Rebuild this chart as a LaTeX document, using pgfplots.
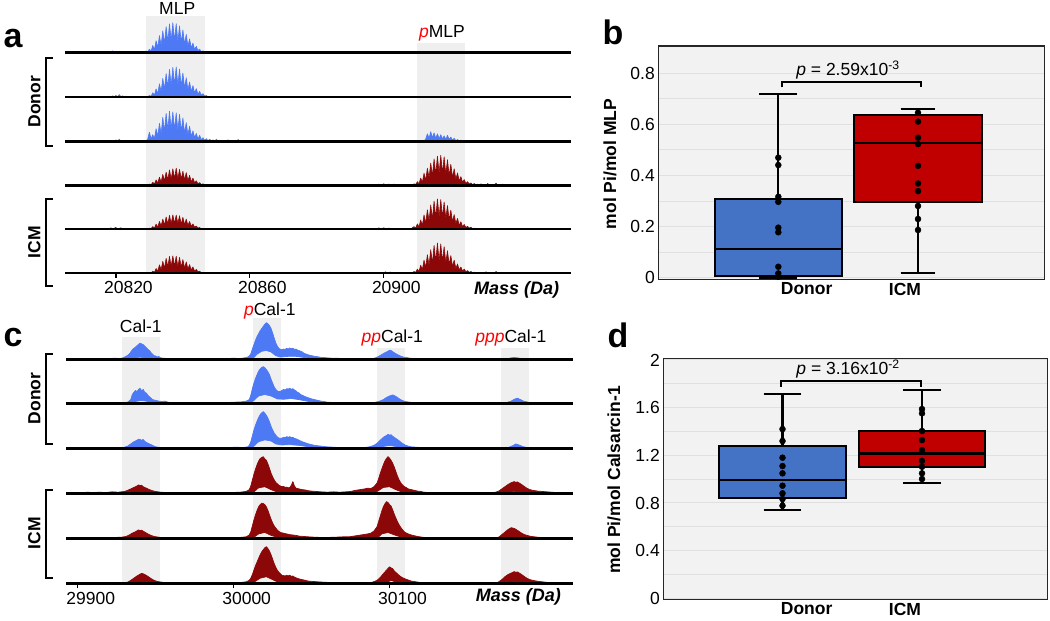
\documentclass[border=0pt]{standalone}
\usepackage{pgfplots}
\pgfplotsset{compat=1.18}
\usepgfplotslibrary{statistics}
\usepackage{fontspec}
\setmainfont{Liberation Sans}
\definecolor{specblue}{RGB}{78,121,245}
\definecolor{specred}{RGB}{140,8,8}
\definecolor{band}{RGB}{239,239,239}
\definecolor{boxblue}{RGB}{68,114,196}
\definecolor{boxred}{RGB}{192,0,0}
\definecolor{panelbg}{RGB}{242,242,242}
\definecolor{gridc}{RGB}{224,224,224}
\newcommand\fs{\fontsize{17.5pt}{21pt}\selectfont}
\pgfplotsset{/pgf/number format/assume math mode=true,
 rowa/.style={scale only axis, width=506.4pt, height=30pt, xmin=20804.8, xmax=20956.0, ymin=0, ymax=100,
   axis x line*=bottom, axis y line=none, xtick=\empty, ytick=\empty, clip=false, axis on top,
   x axis line style={line width=2.6pt, black}, anchor=south west, scaled x ticks=false},
 rowc/.style={scale only axis, width=506.7pt, height=36.6pt, xmin=29892.6, xmax=30217.6, ymin=0, ymax=100,
   axis x line*=bottom, axis y line=none, xtick=\empty, ytick=\empty, clip=false, axis on top,
   x axis line style={line width=2.6pt, black}, anchor=south west, scaled x ticks=false},
 bspec/.style={draw=specblue, fill=specblue, line width=0.6pt, line join=round},
 rspec/.style={draw=specred, fill=specred, line width=0.6pt, line join=round},
 cbspec/.style={draw=specblue, fill=specblue, line width=0.7pt, line join=round},
 crspec/.style={draw=specred, fill=specred, line width=0.7pt, line join=round},
 bottomticks/.style={tick align=outside, major tick length=5pt, xtick style={black, line width=1.2pt},
   xticklabel style={font=\fs}},
 boxpanel/.style={scale only axis, anchor=south west, axis background/.style={fill=panelbg},
   axis line style={draw=black!85, line width=1.4pt}, ymajorgrids, yminorgrids,
   major grid style={gridc, line width=1pt}, minor grid style={gridc, line width=1pt},
   major tick length=0pt, minor tick length=0pt, yticklabel style={font=\fs},
   xticklabel style={font=\fs\bfseries}, clip=false, boxplot/draw direction=y,
   boxplot/every box/.style={draw=black, line width=2.2pt},
   boxplot/every median/.style={draw=black, line width=2.2pt},
   boxplot/every whisker/.style={draw=black, line width=2.2pt}},
}
\begin{document}
\begin{tikzpicture}
\path[use as bounding box] (0pt,0pt) rectangle (1050pt,621pt);
% ---------------- panel a ----------------
\begin{axis}[at={(65pt,348pt)}, anchor=south west, scale only axis, width=506.4pt, height=257.3pt,
  xmin=20804.8, xmax=20956.0, ymin=0, ymax=257.3, hide axis]
\addplot[fill=band, draw=none] coordinates {(20829.1,0)(20846.5,0)(20846.5,257.3)(20829.1,257.3)};
\addplot[fill=band, draw=none] coordinates {(20910.0,0)(20924.1,0)(20924.1,229.7)(20910.0,229.7)};
\end{axis}
% row 1
\begin{axis}[rowa, at={(65pt,568.3pt)}]
\addplot[bspec] coordinates {(20815.5,0)(20816,4)(20816.5,0)(20817,5)(20817.5,1)(20818,5)(20818.5,1)(20819,6)(20819.5,1)(20820,4)(20820.5,0)(20821,3)(20821.5,0)(20822,3)(20822.5,0)
(20828.5,0)(20829,6)(20829.5,2)(20830,12)(20830.5,5)(20831,24)(20831.5,10)(20832,40)(20832.5,17)(20833,57)(20833.5,24)(20834,73)(20834.5,31)(20835,87)(20835.5,36)(20836,96)(20836.5,40)(20837,100)(20837.5,40)(20838,97)(20838.5,38)(20839,89)(20839.5,34)(20840,76)(20840.5,28)(20841,61)(20841.5,22)(20842,46)(20842.5,16)(20843,32)(20843.5,11)(20844,21)(20844.5,7)(20845,12)(20845.5,3)(20846,6)(20846.5,1)(20847,3)(20847.5,0)
(20849.5,0)(20850,3)(20850.5,0)(20853.5,0)(20854,4)(20854.5,0)(20856.5,0)(20857,3)(20857.5,0)} \closedcycle;
\end{axis}
% row 2
\begin{axis}[rowa, at={(65pt,524pt)}]
\addplot[bspec] coordinates {(20817.5,0)(20818,3)(20818.5,0)(20819,4)(20819.5,1)(20820,5)(20820.5,1)(20821,8)(20821.5,1)(20822,4)(20822.5,1)(20823,3)(20823.5,0)
(20829.5,0)(20830,5)(20830.5,2)(20831,14)(20831.5,6)(20832,27)(20832.5,11)(20833,44)(20833.5,18)(20834,62)(20834.5,26)(20835,78)(20835.5,33)(20836,92)(20836.5,38)(20837,99)(20837.5,40)(20838,100)(20838.5,40)(20839,93)(20839.5,36)(20840,80)(20840.5,30)(20841,64)(20841.5,24)(20842,50)(20842.5,18)(20843,38)(20843.5,13)(20844,28)(20844.5,9)(20845,19)(20845.5,6)(20846,11)(20846.5,3)(20847,5)(20847.5,0)} \closedcycle;
\end{axis}
% row 3
\begin{axis}[rowa, at={(65pt,479.7pt)}]
\addplot[bspec] coordinates {(20818.5,0)(20819,3)(20819.5,0)(20820,5)(20820.5,1)(20821,7)(20821.5,1)(20822,3)(20822.5,0)
(20829,0)(20829.5,8)(20830,30)(20830.5,8)(20831,22)(20831.5,9)(20832,42)(20832.5,17)(20833,60)(20833.5,25)(20834,80)(20834.5,33)(20835,93)(20835.5,38)(20836,100)(20836.5,40)(20837,98)(20837.5,38)(20838,95)(20838.5,37)(20839,90)(20839.5,33)(20840,78)(20840.5,28)(20841,62)(20841.5,22)(20842,50)(20842.5,17)(20843,35)(20843.5,12)(20844,26)(20844.5,8)(20845,20)(20845.5,5)(20846,12)(20846.5,3)(20847,9)(20847.5,2)(20848,7)(20848.5,1)(20849,5)(20849.5,0)(20850,7)(20850.5,0)(20851,4)(20851.5,0)(20853,0)(20853.5,5)(20854,0)(20856,0)(20856.5,6)(20857,0)
(20912,0)(20912.5,8)(20913,25)(20913.5,10)(20914,32)(20914.5,12)(20915,28)(20915.5,10)(20916,25)(20916.5,9)(20917,22)(20917.5,8)(20918,18)(20918.5,6)(20919,20)(20919.5,6)(20920,14)(20920.5,4)(20921,10)(20921.5,2)(20922,6)(20922.5,1)(20923,4)(20923.5,0)} \closedcycle;
\end{axis}
% row 4
\begin{axis}[rowa, at={(65pt,435.7pt)}]
\addplot[rspec] coordinates {(20829.5,0)(20830,4)(20830.5,1)(20831,10)(20831.5,4)(20832,18)(20832.5,7)(20833,27)(20833.5,11)(20834,36)(20834.5,15)(20835,44)(20835.5,18)(20836,51)(20836.5,20)(20837,55)(20837.5,22)(20838,57)(20838.5,22)(20839,53)(20839.5,20)(20840,47)(20840.5,18)(20841,42)(20841.5,15)(20842,33)(20842.5,11)(20843,24)(20843.5,8)(20844,15)(20844.5,5)(20845,9)(20845.5,2)(20846,5)(20846.5,1)(20847,3)(20847.5,0)
(20853.5,0)(20854,3)(20854.5,0)(20874.5,0)(20875,3)(20875.5,0)
(20898,0)(20898.5,4)(20899,0)(20900,5)(20900.5,0)(20901.5,4)(20902,0)(20903,4)(20903.5,0)(20904.5,3)(20905,0)
(20908.5,0)(20909,5)(20909.5,2)(20910,12)(20910.5,5)(20911,24)(20911.5,10)(20912,40)(20912.5,17)(20913,57)(20913.5,24)(20914,74)(20914.5,31)(20915,88)(20915.5,36)(20916,97)(20916.5,40)(20917,100)(20917.5,40)(20918,95)(20918.5,37)(20919,85)(20919.5,32)(20920,70)(20920.5,26)(20921,55)(20921.5,20)(20922,41)(20922.5,14)(20923,29)(20923.5,10)(20924,19)(20924.5,6)(20925,12)(20925.5,4)(20926,8)(20926.5,2)(20927,6)(20927.5,1)(20928,4)(20928.5,0)(20929,5)(20929.5,0)(20930.5,0)(20931,6)(20931.5,0)(20933,0)(20933.5,7)(20934,0)(20935,0)(20935.5,4)(20936,0)} \closedcycle;
\end{axis}
% row 5
\begin{axis}[rowa, at={(65pt,392pt)}]
\addplot[rspec] coordinates {(20818,0)(20818.5,4)(20819,0)(20820,5)(20820.5,0)(20821.5,4)(20822,0)
(20829.5,0)(20830,3)(20830.5,1)(20831,8)(20831.5,3)(20832,16)(20832.5,6)(20833,25)(20833.5,10)(20834,33)(20834.5,13)(20835,40)(20835.5,16)(20836,45)(20836.5,18)(20837,47)(20837.5,18)(20838,46)(20838.5,18)(20839,44)(20839.5,16)(20840,39)(20840.5,14)(20841,33)(20841.5,12)(20842,25)(20842.5,9)(20843,17)(20843.5,6)(20844,10)(20844.5,3)(20845,5)(20845.5,0)
(20898,0)(20898.5,4)(20899,0)(20900,4)(20900.5,0)(20901.5,3)(20902,0)
(20908,0)(20908.5,4)(20909,8)(20909.5,3)(20910,17)(20910.5,7)(20911,30)(20911.5,12)(20912,47)(20912.5,19)(20913,64)(20913.5,27)(20914,80)(20914.5,33)(20915,93)(20915.5,38)(20916,100)(20916.5,40)(20917,98)(20917.5,39)(20918,90)(20918.5,35)(20919,78)(20919.5,30)(20920,63)(20920.5,24)(20921,48)(20921.5,18)(20922,35)(20922.5,12)(20923,24)(20923.5,8)(20924,15)(20924.5,5)(20925,9)(20925.5,3)(20926,6)(20926.5,1)(20927,3)(20927.5,0)} \closedcycle;
\end{axis}
% row 6
\begin{axis}[rowa, at={(65pt,348pt)}, bottomticks, xtick={20820,20860,20900}, xticklabels={20820,20860,20900},
  xticklabel style={xshift=12.5pt}]
\addplot[rspec] coordinates {(20830.5,0)(20831,6)(20831.5,2)(20832,15)(20832.5,6)(20833,27)(20833.5,11)(20834,39)(20834.5,16)(20835,49)(20835.5,20)(20836,55)(20836.5,22)(20837,57)(20837.5,22)(20838,56)(20838.5,21)(20839,52)(20839.5,19)(20840,45)(20840.5,16)(20841,37)(20841.5,13)(20842,28)(20842.5,10)(20843,20)(20843.5,6)(20844,12)(20844.5,4)(20845,6)(20845.5,0)
(20900,0)(20900.5,4)(20901,0)(20902,3)(20902.5,0)
(20908.5,0)(20909,5)(20909.5,2)(20910,13)(20910.5,5)(20911,26)(20911.5,11)(20912,43)(20912.5,18)(20913,61)(20913.5,25)(20914,78)(20914.5,32)(20915,92)(20915.5,38)(20916,100)(20916.5,40)(20917,97)(20917.5,38)(20918,88)(20918.5,34)(20919,74)(20919.5,28)(20920,58)(20920.5,22)(20921,43)(20921.5,15)(20922,30)(20922.5,10)(20923,20)(20923.5,6)(20924,13)(20924.5,4)(20925,8)(20925.5,2)(20926,5)(20926.5,1)(20927,3)(20927.5,0)(20930,0)(20930.5,4)(20931,0)(20933,0)(20933.5,5)(20934,0)} \closedcycle;
\end{axis}
% ---------------- panel c ----------------
\begin{axis}[at={(66.2pt,37.7pt)}, anchor=south west, scale only axis, width=506.7pt, height=265pt,
  xmin=29892.6, xmax=30217.6, ymin=0, ymax=265, hide axis]
\addplot[fill=band, draw=none] coordinates {(29928.2,0)(29952.8,0)(29952.8,246.6)(29928.2,246.6)};
\addplot[fill=band, draw=none] coordinates {(30012.2,0)(30030.1,0)(30030.1,265)(30012.2,265)};
\addplot[fill=band, draw=none] coordinates {(30091.9,0)(30109.6,0)(30109.6,235.6)(30091.9,235.6)};
\addplot[fill=band, draw=none] coordinates {(30171.4,0)(30189.6,0)(30189.6,235.6)(30171.4,235.6)};
\end{axis}
% c row 1
\begin{axis}[rowc, at={(66.2pt,261.7pt)}]
\addplot[cbspec] coordinates {(29905,0)(29910,1)(29915,2)(29920,2)(29924,3)(29927,2)(29929,4)(29931,8)(29933,14)(29934,20)(29935,26)(29936,30)(29937,33)(29938,37)(29939,41)(29940,44)(29941,42)(29942,40)(29943,36)(29944,32)(29945,27)(29946,24)(29947,18)(29948,14)(29949,10)(29950,9)(29951,6)(29952,8)(29953,4)(29955,3)(29958,2)(29962,1)(29970,0)(29980,0)(29990,1)(29996,2)(30000,3)(30004,2)(30007,4)(30009,6)(30010,9)(30011,15)(30012,28)(30013,40)(30014,52)(30015,62)(30016,70)(30017,78)(30018,84)(30019,90)(30020,96)(30021,100)(30022,97)(30023,92)(30024,84)(30025,72)(30026,58)(30027,45)(30028,36)(30029,30)(30030,27)(30031,26)(30032,28)(30033,27)(30034,30)(30035,28)(30036,31)(30037,29)(30038,30)(30039,27)(30040,28)(30041,25)(30042,24)(30043,22)(30044,20)(30045,17)(30046,15)(30048,12)(30050,10)(30052,8)(30054,7)(30056,5)(30058,5)(30060,4)(30063,3)(30066,3)(30070,2)(30075,1)(30080,0)(30085,1)(30089,2)(30091,4)(30093,8)(30095,13)(30097,18)(30099,22)(30100,25)(30101,24)(30102,21)(30103,18)(30105,13)(30107,9)(30109,6)(30111,5)(30113,3)(30116,2)(30120,1)(30125,0)(30170,0)(30175,1)(30178,4)(30180,5)(30182,4)(30185,2)(30190,1)(30200,0)(30210,0)
(30060,0)(30050,3)(30045,5)(30040,8)(30035,8)(30030,6)(30027,10)(30024,20)(30021,24)(30018,22)(30015,14)(30013,5)(30011,0)(29946,0)(29943,4)(29940,6)(29937,4)(29934,0)(29905,0)};
\end{axis}
% c row 2
\begin{axis}[rowc, at={(66.2pt,217.7pt)}]
\addplot[cbspec] coordinates {(29905,0)(29915,1)(29925,2)(29930,2)(29932,3)(29934,10)(29935,24)(29936,30)(29937,35)(29938,32)(29939,38)(29940,41)(29941,34)(29942,38)(29943,30)(29944,28)(29945,22)(29946,18)(29947,14)(29948,10)(29950,8)(29952,6)(29954,5)(29956,6)(29958,3)(29962,1)(29970,0)(29985,0)(29995,2)(30000,3)(30005,4)(30008,6)(30010,10)(30011,22)(30012,40)(30013,55)(30014,68)(30015,78)(30016,88)(30017,94)(30018,98)(30019,100)(30020,97)(30021,92)(30022,86)(30023,78)(30024,66)(30025,55)(30026,45)(30027,38)(30028,34)(30029,32)(30030,33)(30031,35)(30032,38)(30033,36)(30034,40)(30035,39)(30036,41)(30037,38)(30038,40)(30039,36)(30040,34)(30041,30)(30042,28)(30043,24)(30044,22)(30046,18)(30048,15)(30050,12)(30052,10)(30054,8)(30056,6)(30058,5)(30060,3)(30065,2)(30070,1)(30085,0)(30090,2)(30093,5)(30096,10)(30098,16)(30100,20)(30102,23)(30104,19)(30106,13)(30108,8)(30110,5)(30113,3)(30118,1)(30125,0)(30170,0)(30175,2)(30178,6)(30180,11)(30182,14)(30184,10)(30186,6)(30189,3)(30193,1)(30200,0)(30210,0)
(30060,0)(30048,5)(30042,10)(30037,13)(30032,11)(30028,12)(30024,20)(30020,24)(30016,20)(30013,8)(30011,0)(29948,0)(29945,5)(29941,8)(29937,5)(29935,0)(29905,0)};
\end{axis}
% c row 3
\begin{axis}[rowc, at={(66.2pt,172.7pt)}]
\addplot[cbspec] coordinates {(29905,0)(29915,1)(29922,2)(29928,1)(29930,3)(29932,6)(29934,12)(29936,18)(29938,22)(29939,25)(29940,24)(29941,22)(29942,24)(29943,19)(29944,16)(29946,12)(29948,8)(29950,4)(29953,2)(29958,1)(29965,0)(29980,0)(29990,1)(29996,2)(30002,3)(30006,2)(30009,4)(30010,8)(30011,18)(30012,34)(30013,50)(30014,63)(30015,74)(30016,84)(30017,92)(30018,97)(30019,100)(30020,96)(30021,90)(30022,82)(30023,72)(30024,60)(30025,50)(30026,42)(30027,36)(30028,31)(30029,28)(30030,27)(30031,28)(30032,30)(30033,29)(30034,32)(30035,30)(30036,32)(30037,29)(30038,30)(30039,27)(30040,26)(30042,22)(30044,18)(30046,15)(30048,12)(30050,10)(30052,8)(30054,7)(30056,6)(30058,5)(30060,4)(30064,3)(30068,2)(30072,1)(30080,1)(30084,2)(30087,4)(30090,8)(30092,14)(30094,22)(30096,30)(30098,35)(30099,38)(30100,36)(30101,37)(30102,33)(30104,27)(30106,21)(30108,14)(30110,9)(30112,6)(30114,4)(30117,3)(30120,2)(30125,1)(30130,0)(30172,0)(30176,2)(30179,7)(30181,12)(30183,9)(30186,4)(30190,1)(30196,0)(30210,0)
(30110,0)(30104,5)(30100,8)(30096,5)(30092,0)(30072,0)(30050,3)(30042,8)(30036,10)(30031,9)(30027,12)(30024,20)(30020,23)(30016,18)(30013,6)(30011,0)(29944,0)(29940,4)(29936,0)(29905,0)};
\end{axis}
% c row 4
\begin{axis}[rowc, at={(66.2pt,127.7pt)}]
\addplot[crspec] coordinates {(29895,0)(29898,2)(29902,1)(29906,3)(29910,2)(29914,3)(29918,2)(29922,4)(29926,3)(29930,5)(29932,8)(29934,12)(29936,16)(29938,20)(29939,23)(29940,21)(29941,22)(29942,18)(29944,14)(29946,10)(29948,7)(29950,5)(29953,3)(29957,2)(29962,1)(29968,0)(29985,0)(29992,1)(29998,2)(30004,3)(30008,5)(30010,10)(30011,20)(30012,36)(30013,52)(30014,66)(30015,78)(30016,88)(30017,95)(30018,98)(30019,100)(30020,94)(30021,90)(30022,80)(30023,68)(30024,55)(30025,45)(30026,37)(30027,30)(30028,26)(30029,22)(30030,20)(30031,18)(30032,19)(30033,16)(30034,17)(30035,15)(30036,16)(30037,22)(30038,32)(30039,20)(30040,14)(30042,12)(30044,10)(30046,9)(30048,7)(30050,6)(30053,5)(30056,4)(30060,3)(30064,4)(30068,3)(30072,4)(30075,5)(30078,8)(30081,10)(30084,12)(30086,14)(30088,13)(30090,18)(30092,28)(30093,40)(30094,54)(30095,66)(30096,78)(30097,88)(30098,95)(30099,100)(30100,96)(30101,90)(30102,82)(30103,72)(30104,60)(30105,48)(30106,38)(30107,30)(30108,24)(30109,20)(30110,17)(30111,15)(30112,12)(30114,10)(30116,8)(30118,6)(30120,5)(30122,3)(30125,2)(30130,1)(30140,0)(30165,1)(30168,3)(30170,6)(30172,12)(30174,18)(30176,24)(30178,29)(30180,32)(30181,30)(30182,31)(30184,26)(30186,20)(30188,14)(30190,10)(30192,8)(30195,6)(30198,5)(30201,4)(30204,3)(30207,2)(30212,1)(30217,0)
(30186,0)(30182,5)(30178,4)(30174,0)(30110,0)(30104,10)(30100,18)(30096,16)(30092,5)(30090,0)(30030,0)(30024,10)(30020,18)(30016,15)(30013,4)(30011,0)(29895,0)};
\end{axis}
% c row 5
\begin{axis}[rowc, at={(66.2pt,82.7pt)}]
\addplot[crspec] coordinates {(29895,0)(29905,1)(29915,2)(29922,2)(29928,3)(29931,5)(29933,9)(29935,14)(29937,18)(29939,23)(29940,21)(29941,22)(29943,17)(29945,12)(29947,8)(29949,5)(29952,3)(29956,1)(29962,0)(29985,0)(29995,1)(30003,2)(30008,4)(30010,9)(30011,18)(30012,34)(30013,50)(30014,64)(30015,76)(30016,86)(30017,92)(30018,96)(30019,95)(30020,92)(30021,86)(30022,76)(30023,64)(30024,52)(30025,42)(30026,34)(30027,28)(30028,23)(30029,19)(30030,16)(30032,14)(30034,12)(30036,10)(30038,9)(30040,8)(30042,6)(30045,5)(30048,4)(30052,3)(30058,2)(30065,3)(30070,4)(30074,4)(30077,6)(30080,8)(30083,10)(30086,12)(30088,14)(30090,20)(30092,32)(30093,46)(30094,60)(30095,74)(30096,86)(30097,94)(30098,100)(30099,98)(30100,92)(30101,88)(30102,78)(30103,66)(30104,56)(30105,46)(30106,38)(30107,31)(30108,25)(30109,20)(30110,16)(30112,12)(30114,9)(30116,7)(30118,5)(30121,3)(30125,1)(30130,0)(30168,0)(30170,3)(30172,10)(30174,17)(30176,24)(30178,29)(30180,27)(30182,22)(30184,16)(30186,11)(30188,8)(30191,5)(30195,3)(30200,1)(30205,0)(30217,0)
(30110,0)(30104,8)(30099,16)(30095,12)(30092,0)(30030,0)(30024,8)(30020,16)(30016,12)(30013,3)(30011,0)(29895,0)};
\end{axis}
% c row 6
\begin{axis}[rowc, at={(66.2pt,37.7pt)}, bottomticks, xtick={29900,30000,30100}, xticklabels={29900,30000,30100},
  xticklabel style={xshift=13pt}]
\addplot[crspec] coordinates {(29905,0)(29915,1)(29925,2)(29930,2)(29932,3)(29934,8)(29936,14)(29938,20)(29940,25)(29941,27)(29942,26)(29943,24)(29945,19)(29947,13)(29949,8)(29951,5)(29954,3)(29958,1)(29964,0)(29990,0)(29998,1)(30004,2)(30008,4)(30010,8)(30011,14)(30012,24)(30013,36)(30014,48)(30015,58)(30016,68)(30017,78)(30018,86)(30019,92)(30020,97)(30021,100)(30022,95)(30023,88)(30024,78)(30025,66)(30026,54)(30027,44)(30028,36)(30029,30)(30030,26)(30031,22)(30032,21)(30033,20)(30034,22)(30035,20)(30036,22)(30037,19)(30038,20)(30039,17)(30040,15)(30042,12)(30044,10)(30046,8)(30048,6)(30051,5)(30054,4)(30058,3)(30062,2)(30068,1)(30075,0)(30085,0)(30089,3)(30092,8)(30094,16)(30096,26)(30098,36)(30100,45)(30101,42)(30102,40)(30103,34)(30104,30)(30105,26)(30106,22)(30108,16)(30110,12)(30112,9)(30114,6)(30117,4)(30120,2)(30125,1)(30132,0)(30168,0)(30170,4)(30172,10)(30174,18)(30176,24)(30178,28)(30180,32)(30181,30)(30182,31)(30184,26)(30186,20)(30188,14)(30190,10)(30193,7)(30196,5)(30200,3)(30205,1)(30210,0)(30217,0)
(30184,0)(30180,5)(30176,0)(30106,0)(30101,8)(30097,0)(30030,0)(30025,10)(30021,18)(30017,14)(30013,3)(30011,0)(29905,0)};
\end{axis}
% ---------------- panel b ----------------
\begin{axis}[boxpanel, at={(658.3pt,341.7pt)}, width=386pt, height=233.3pt,
  xmin=0.141, xmax=2.904, ymin=-0.006, ymax=0.907,
  ytick={0,0.2,0.4,0.6,0.8}, minor ytick={0.1,0.3,0.5,0.7},
  xtick={1.203,1.907}, xticklabels={Donor,ICM}]
\addplot[boxplot prepared={lower whisker=0, lower quartile=0.007, median=0.111, upper quartile=0.307, upper whisker=0.719,
  draw position=1, box extend=0.907, whisker extend=0.272}, fill=boxblue, draw=black, line width=2.2pt, solid] coordinates {};
\addplot[boxplot prepared={lower whisker=0.020, lower quartile=0.295, median=0.528, upper quartile=0.637, upper whisker=0.661,
  draw position=2, box extend=0.912, whisker extend=0.25}, fill=boxred, draw=black, line width=2.2pt, solid] coordinates {};
\addplot[only marks, mark=*, mark size=3pt, black] coordinates {(1,0.47)(1,0.441)(1,0.317)(1,0.297)(1,0.196)(1,0.178)(1,0.043)(1,0.017)(1,0.004)};
\addplot[only marks, mark=*, mark size=3pt, black] coordinates {(2,0.646)(2,0.611)(2,0.548)(2,0.523)(2,0.438)(2,0.369)(2,0.339)(2,0.281)(2,0.230)(2,0.187)};
\draw[line width=2.2pt] (axis cs:1.024,0.745) -- (axis cs:1.024,0.765) -- (axis cs:2.021,0.765) -- (axis cs:2.021,0.745);
\node[font=\fs] at (axis cs:1.499,0.813) {\textit{p} = 2.59x10\textsuperscript{-3}};
\end{axis}
% ---------------- panel d ----------------
\begin{axis}[boxpanel, at={(663.3pt,21.7pt)}, width=384.4pt, height=241pt,
  xmin=0.1455, xmax=2.901, ymin=-0.008, ymax=2.014,
  ytick={0,0.4,0.8,1.2,1.6,2}, minor ytick={0.2,0.6,1,1.4,1.8},
  xtick={1.173,1.878}, xticklabels={Donor,ICM}]
\addplot[boxplot prepared={lower whisker=0.738, lower quartile=0.844, median=0.992, upper quartile=1.280, upper whisker=1.714,
  draw position=1, box extend=0.908, whisker extend=0.272}, fill=boxblue, draw=black, line width=2.2pt, solid] coordinates {};
\addplot[boxplot prepared={lower whisker=0.965, lower quartile=1.104, median=1.216, upper quartile=1.406, upper whisker=1.745,
  draw position=2, box extend=0.908, whisker extend=0.27}, fill=boxred, draw=black, line width=2.2pt, solid] coordinates {};
\addplot[only marks, mark=*, mark size=3pt, black] coordinates {(1,1.420)(1,1.320)(1,1.180)(1,1.110)(1,1.049)(1,0.945)(1,0.881)(1,0.833)(1,0.777)};
\addplot[only marks, mark=*, mark size=3pt, black] coordinates {(2,1.588)(2,1.552)(2,1.404)(2,1.328)(2,1.244)(2,1.154)(2,1.104)(2,1.049)(2,1.001)};
\draw[line width=2.2pt] (axis cs:0.987,1.775) -- (axis cs:0.987,1.826) -- (axis cs:1.991,1.826) -- (axis cs:1.991,1.775);
\node[font=\fs] at (axis cs:1.47,1.921) {\textit{p} = 3.16x10\textsuperscript{-2}};
\end{axis}
% ---------------- annotations ----------------
\node[font=\fontsize{34pt}{34pt}\selectfont\bfseries, anchor=base west] at (0pt,573.5pt) {a};
\node[font=\fontsize{34pt}{34pt}\selectfont\bfseries, anchor=base west] at (599pt,576pt) {b};
\node[font=\fontsize{34pt}{34pt}\selectfont\bfseries, anchor=base west] at (0pt,274pt) {c};
\node[font=\fontsize{34pt}{34pt}\selectfont\bfseries, anchor=base west] at (604pt,273.7pt) {d};
\node[font=\fs, anchor=base] at (177.2pt,606.2pt) {MLP};
\node[font=\fs, anchor=base] at (442pt,583.7pt) {\textcolor{red}{\textit{p}}MLP};
\node[font=\fs, anchor=base] at (140.8pt,288.7pt) {Cal-1};
\node[font=\fs, anchor=base] at (269.8pt,305pt) {\textcolor{red}{\textit{p}}Cal-1};
\node[font=\fs, anchor=base] at (392.3pt,278.3pt) {\textcolor{red}{\textit{pp}}Cal-1};
\node[font=\fs, anchor=base] at (510.9pt,278.3pt) {\textcolor{red}{\textit{ppp}}Cal-1};
\node[font=\fontsize{18pt}{21pt}\selectfont\bfseries\itshape, anchor=base east] at (562.6pt,326pt) {Mass (Da)};
\node[font=\fontsize{18pt}{21pt}\selectfont\bfseries\itshape, anchor=base east] at (564.5pt,19.3pt) {Mass (Da)};
\node[font=\fs\bfseries, rotate=90] at (34.4pt,519.3pt) {Donor};
\node[font=\fs\bfseries, rotate=90] at (34.4pt,378.7pt) {ICM};
\node[font=\fs\bfseries, rotate=90] at (34.4pt,222.7pt) {Donor};
\node[font=\fs\bfseries, rotate=90] at (34.4pt,87.7pt) {ICM};
\draw[line width=2pt] (52.8pt,562.7pt) -- (45.9pt,562.7pt) -- (45.9pt,475.3pt) -- (52.8pt,475.3pt);
\draw[line width=2pt] (52.8pt,422pt) -- (45.9pt,422pt) -- (45.9pt,335pt) -- (52.8pt,335pt);
\draw[line width=2pt] (52.8pt,266.7pt) -- (45.9pt,266.7pt) -- (45.9pt,177pt) -- (52.8pt,177pt);
\draw[line width=2pt] (52.8pt,131pt) -- (45.9pt,131pt) -- (45.9pt,43.3pt) -- (52.8pt,43.3pt);
\node[font=\fs\bfseries, rotate=90] at (610pt,457pt) {mol Pi/mol MLP};
\node[font=\fs\bfseries, rotate=90] at (614pt,141pt) {mol Pi/mol Calsarcin-1};
\end{tikzpicture}
\end{document}
